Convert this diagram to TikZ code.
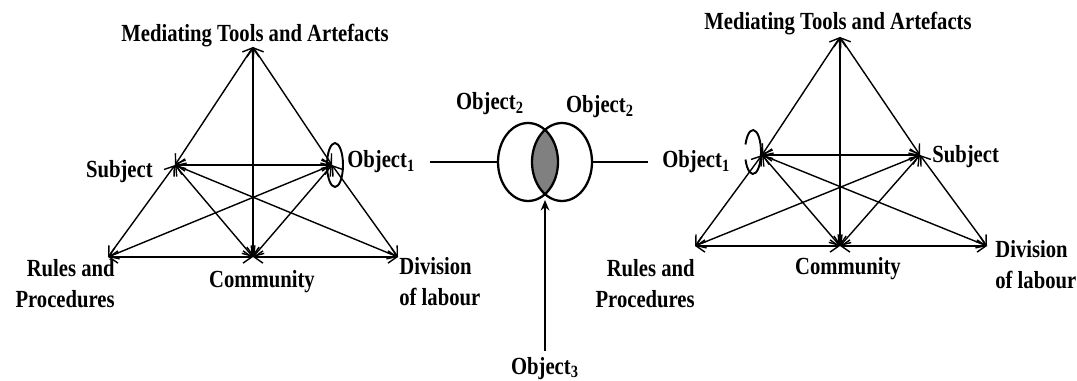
\documentclass[tikz,border=0pt]{standalone}
\usepackage{fontspec}
\setmainfont{Liberation Serif}[FakeStretch=0.84]
\definecolor{overlapgray}{RGB}{128,128,128}
\usetikzlibrary{arrows.meta,shapes.geometric}

\begin{document}
\begin{tikzpicture}[x=0.02cm,y=-0.02cm,
        >={Straight Barb[length=5pt,width=7pt]},
        lbl/.style={font=\fontsize{14}{17.5}\selectfont\bfseries,inner sep=0pt},
        link/.style={<->,line width=0.8pt},
        loopline/.style={line width=1.1pt},
        venn/.style={draw,ellipse,line width=1.3pt,minimum width=1.2cm,minimum height=1.56cm,inner sep=0pt},
        wire/.style={line width=0.9pt},
    ]
    \useasboundingbox (0,0) rectangle (1077,381);

    % left triangle
    \coordinate (lT) at (253,47);
    \coordinate (lS) at (175,165);
    \coordinate (lO) at (332,165);
    \coordinate (lR) at (108,257);
    \coordinate (lC) at (253,257);
    \coordinate (lD) at (398,257);

    \node[lbl,anchor=base] (lmed) at (255,42) {Mediating Tools and Artefacts};
    \node[lbl,anchor=base east] (lsub) at (153,178) {Subject};
    \node[lbl,anchor=base west] (lobj) at (347,168) {Object\textsubscript{1}};
    \node[lbl,anchor=base east,align=right] (lrul) at (115,307) {Rules and\\Procedures};
    \node[lbl,anchor=base] (lcom) at (262,287) {Community};
    \node[lbl,anchor=base west,align=left] (ldiv) at (399,305) {Division\\of labour};

    \draw[link] (lT) -- (lS);
    \draw[link] (lT) -- (lO);
    \draw[link] (lT) -- (lC);
    \draw[link] (lS) -- (lO);
    \draw[link] (lS) -- (lR);
    \draw[link] (lS) -- (lC);
    \draw[link] (lS) -- (lD);
    \draw[link] (lO) -- (lR);
    \draw[link] (lO) -- (lC);
    \draw[link] (lO) -- (lD);
    \draw[link] (lR) -- (lC);
    \draw[link] (lC) -- (lD);
    \draw[loopline] (335,165) ellipse [x radius=0.16cm, y radius=0.44cm];

    % shared object in the middle
    \begin{scope}
        \clip (528,162) ellipse [x radius=0.6cm, y radius=0.78cm];
        \fill[overlapgray] (562,162) ellipse [x radius=0.6cm, y radius=0.78cm];
    \end{scope}
    \node[venn] (o2l) at (528,162) {};
    \node[venn] (o2r) at (562,162) {};
    \coordinate (meet) at (545,200);
    \coordinate (lcut) at (430,162);
    \coordinate (rcut) at (648,162);

    \node[lbl,anchor=base] (o2a) at (490,110) {Object\textsubscript{2}};
    \node[lbl,anchor=base] (o2b) at (600,113) {Object\textsubscript{2}};
    \node[lbl,anchor=base] (o3) at (545,374) {Object\textsubscript{3}};

    \draw[wire] (lcut) -- (o2l.west);
    \draw[wire] (o2r.east) -- (rcut);
    \draw[wire,-{Stealth[length=6pt,width=5pt]}] ([yshift=0.12cm]o3.north) -- (meet);

    % right triangle
    \coordinate (rT) at (840,37);
    \coordinate (rO) at (762,155);
    \coordinate (rS) at (920,155);
    \coordinate (rR) at (695,246);
    \coordinate (rC) at (840,246);
    \coordinate (rD) at (987,246);

    \node[lbl,anchor=base] (rmed) at (838,30) {Mediating Tools and Artefacts};
    \node[lbl,anchor=base west] (robj) at (662,168) {Object\textsubscript{1}};
    \node[lbl,anchor=base west] (rsub) at (932,163) {Subject};
    \node[lbl,anchor=base east,align=right] (rrul) at (695,307) {Rules and\\Procedures};
    \node[lbl,anchor=base] (rcom) at (848,275) {Community};
    \node[lbl,anchor=base west,align=left] (rdiv) at (995,288) {Division\\of labour};

    \draw[link] (rT) -- (rO);
    \draw[link] (rT) -- (rS);
    \draw[link] (rT) -- (rC);
    \draw[link] (rO) -- (rS);
    \draw[link] (rO) -- (rR);
    \draw[link] (rO) -- (rC);
    \draw[link] (rO) -- (rD);
    \draw[link] (rS) -- (rR);
    \draw[link] (rS) -- (rC);
    \draw[link] (rS) -- (rD);
    \draw[link] (rR) -- (rC);
    \draw[link] (rC) -- (rD);
    \draw[loopline] ([shift={(200:0.16cm and 0.44cm)}]753,152) arc [start angle=200, end angle=520, x radius=0.16cm, y radius=0.44cm];
\end{tikzpicture}
\end{document}
